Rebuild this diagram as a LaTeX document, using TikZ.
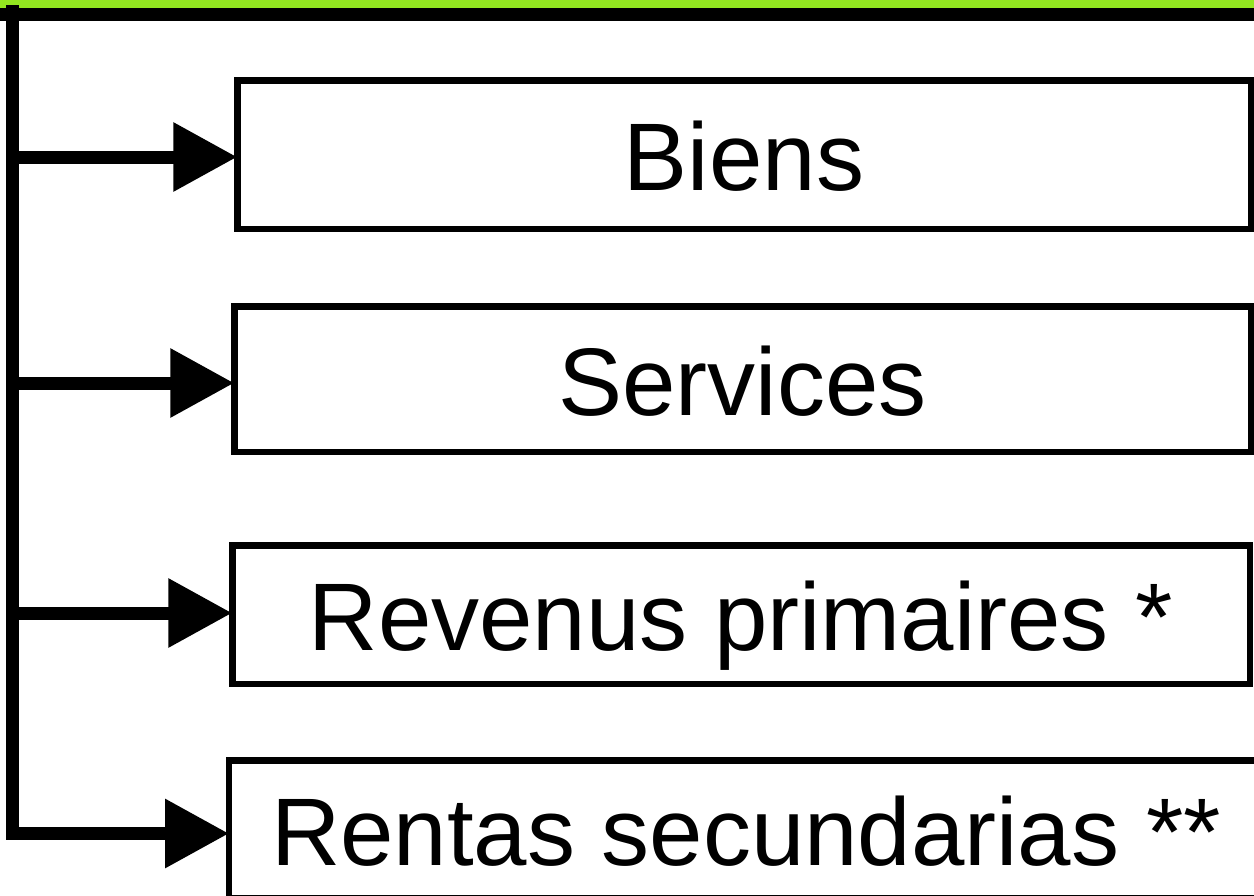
\documentclass[tikz,border=0pt]{standalone}
\usepackage{fontspec}
\setmainfont{Liberation Sans}
\usetikzlibrary{arrows.meta}
\definecolor{topgreen}{RGB}{146,230,32}
\tikzset{
  catbox/.style={draw=black, line width=6.5pt, fill=white, inner sep=0pt, outer sep=0pt,
    font=\fontsize{96}{100}\selectfont, text height=72pt, text depth=0pt},
  feed/.style={line width=13pt, -{Triangle[length=64pt,width=66pt]}},
  spine/.style={line width=13pt, line join=miter}
}
\begin{document}
\begin{tikzpicture}[x=1pt,y=-1pt]
\useasboundingbox (0,0) rectangle (1254,895);
\clip (0,0) rectangle (1254,895);
% top bands
\fill[topgreen] (0,0) rectangle (1254,8);
\fill[black] (0,8) rectangle (1254,21);
% boxes
\node[catbox, minimum width=1013.5pt, minimum height=148.5pt] (biens) at (744,154.5) {Biens};
\node[catbox, minimum width=1016.5pt, minimum height=145.5pt] (serv) at (742.5,379) {Services};
\node[catbox, minimum width=1017.5pt, minimum height=138.5pt] (rev) at (741,614.5) {Revenus primaires *};
\node[catbox, minimum width=1034pt, minimum height=137.5pt] (rent) at (746,829) {Rentas secundarias **};
% spine coordinates
\coordinate (top) at (12.5,5);
\coordinate (c1) at (12.5,157);
\coordinate (c2) at (12.5,383);
\coordinate (c3) at (12.5,613);
\coordinate (c4) at (12.5,833.5);
\draw[spine] (top) -- (c4);
\draw[feed] (c1) -- (c1 -| biens.west);
\draw[feed] (c2) -- (c2 -| serv.west);
\draw[feed] (c3) -- (c3 -| rev.west);
\draw[feed] (c4) -- (c4 -| rent.west);
\fill[black] (6,827) rectangle (19,840);
\end{tikzpicture}
\end{document}
